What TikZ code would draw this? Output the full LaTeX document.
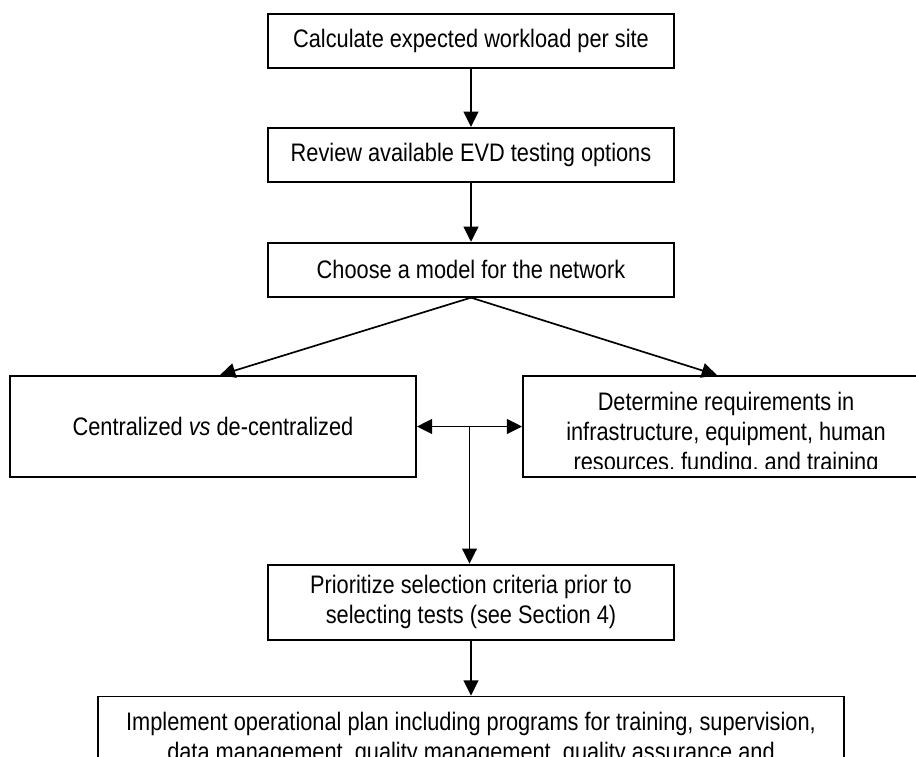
\documentclass[tikz,border=0pt]{standalone}
\usepackage{fontspec}
\setmainfont{Liberation Sans}[FakeStretch=0.86]
\usetikzlibrary{positioning,arrows.meta}
\tikzset{stage/.style={draw,line width=1.3pt,minimum width=10.15cm,minimum height=1.35cm,
    align=center,inner sep=0pt,font=\fontsize{18pt}{21.3pt}\selectfont}}
\tikzset{flow/.style={line width=1.2pt,->}}

\begin{document}
\begin{tikzpicture}[x=0.025cm,y=-0.025cm,>={Triangle[length=0.38cm,width=0.37cm]}]
\useasboundingbox (0,0) rectangle (916,757);

\node[stage] (workload) at (471,41) {Calculate expected workload per site};

\node[stage,
    below=1.45cm of workload
] (options) {Review available EVD testing options};

\node[stage,
    below=1.475cm of options
] (model) {Choose a model for the network};

\node[stage,
    minimum height=2.525cm
] (central) at (213,426.5) {Centralized \textit{vs} de-centralized};

\node[stage,
    minimum height=2.525cm
] (needs) at (726,426.5) {};

% text of the right box runs past its lower border
\begin{scope}
\clip ([yshift=0.225cm]needs.south west) rectangle (needs.north east);
\node[stage, draw=none] (needstext) at ([yshift=-0.19cm]needs.center)
    {Determine requirements in\\ infrastructure, equipment, human\\ resources, funding, and training};
\end{scope}

\node[stage,
    below=6.65cm of model,
    minimum height=1.875cm
] (criteria) {Prioritize selection criteria prior to\\ selecting tests (see Section 4)};

\node[stage,
    below=1.375cm of criteria,
    minimum width=18.625cm,
    minimum height=2.1cm
] (plan) {Implement operational plan including programs for training, supervision,\\
    data management, quality management, quality assurance and};

% Arrows
\draw[flow] (workload) -- (options);
\draw[flow] (options) -- (model);
\draw[flow] (model.south) -- ([xshift=0.175cm]central.north);
\draw[flow] (model.south) -- ([xshift=-0.225cm]needs.north);
\draw[flow,<->] (central) -- coordinate (split) (needs);
\draw[flow] (split) -- (split |- criteria.north);
\draw[flow] (criteria) -- (plan);
\end{tikzpicture}
\end{document}
